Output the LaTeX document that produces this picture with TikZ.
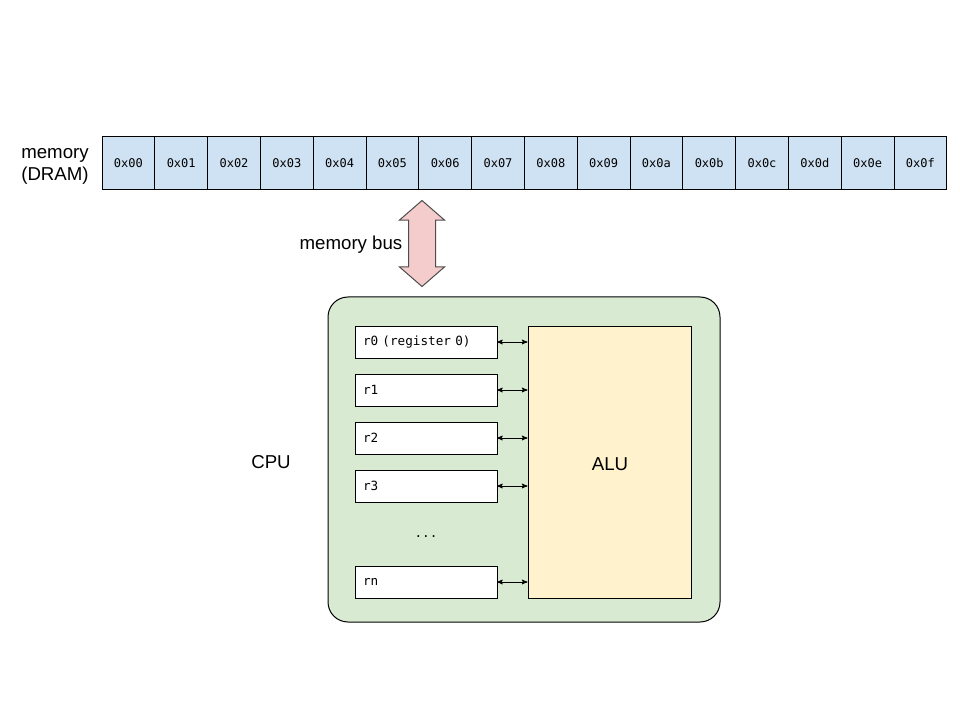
\documentclass[tikz,border=0pt]{standalone}
\usepackage{fontspec}
\setmainfont{Liberation Sans}
\setmonofont{DejaVu Sans Mono}
\usetikzlibrary{arrows,positioning,shapes.arrows}
\definecolor{cellcolor}{HTML}{CFE2F3}
\definecolor{buscolor}{HTML}{F4CCCC}
\definecolor{cpucolor}{HTML}{D9EAD3}
\definecolor{alucolor}{HTML}{FFF2CC}

\begin{document}
\begin{tikzpicture}[x=0.75pt,y=-0.75pt,>=stealth',line width=0.75pt,
                    font=\fontsize{14}{16.5}\selectfont]
  \tikzstyle{cell}=[draw,fill=cellcolor,outer sep=0pt,minimum width=39.6pt,
                    minimum height=39.75pt,inner sep=0pt,font=\ttfamily\fontsize{9}{10}\selectfont]
  \tikzstyle{reg}=[draw,fill=white,outer sep=0pt,minimum height=24pt,
                   text width=94.5pt,inner xsep=6pt,align=left,font=\ttfamily\fontsize{9.5}{10}\selectfont]
  \useasboundingbox (0,0) rectangle (960,720);

  % memory row
  \node (memlabel) at (55,166) [align=center] {memory\\(DRAM)};
  \node[cell,anchor=north west] (m0) at (102,137) {0x00};
  \foreach \i/\h in {1/01,2/02,3/03,4/04,5/05,6/06,7/07,8/08,9/09,10/0a,11/0b,12/0c,13/0d,14/0e,15/0f}{
    \pgfmathtruncatemacro\j{\i-1}
    \node[cell,right=0pt of m\j] (m\i) {0x\h};
  }

  % bus
  \node[draw=black!70,fill=buscolor,double arrow,rotate=90,minimum height=64.5pt,
        double arrow head extend=6.75pt,double arrow tip angle=98,
        inner xsep=0pt,inner ysep=9.75pt] (bus) at (422,243.5) {};
  \node (buslabel) at (351,245) {memory bus};

  % cpu
  \node[draw,fill=cpucolor,rounded corners=15pt,minimum width=294pt,
        minimum height=243.75pt] (cpu) at (524,459.5) {};
  \node (cpulabel) at (271,462) {CPU};
  \node[draw,fill=alucolor,minimum width=122.25pt,minimum height=204pt] (alu) at (609.5,462) {};
  \node (alulabel) at (610,464) {ALU};

  \node[reg] (r0) at (426,342) {r0 (register 0)};
  \node[reg,below=12pt of r0] (r1) {r1};
  \node[reg,below=12pt of r1] (r2) {r2};
  \node[reg,below=12pt of r2] (r3) {r3};
  \node (dots) at (426,537) {\ttfamily\fontsize{9.5}{10}\selectfont ...};
  \node[reg] (rn) at (426,582) {rn};

  \foreach \r in {r0,r1,r2,r3,rn}
    \draw[<->,line width=0.6pt] (\r.east) -- (\r.east -| alu.west);

\end{tikzpicture}
\end{document}
